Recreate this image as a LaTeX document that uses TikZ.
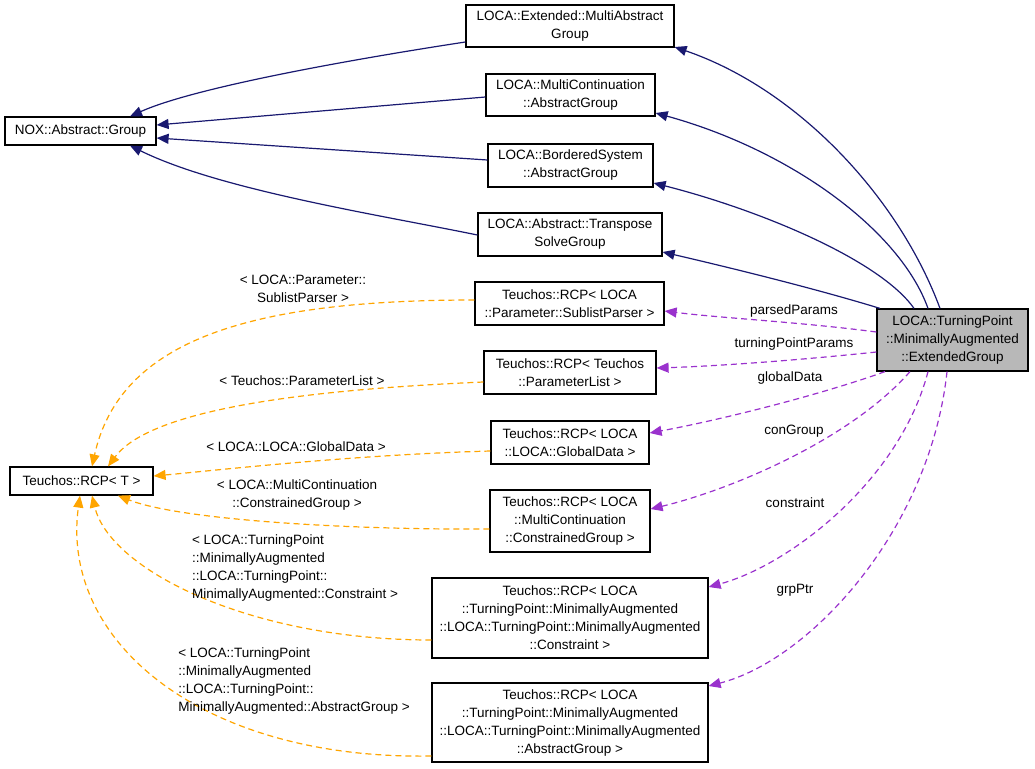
\documentclass[tikz,border=0pt]{standalone}
\usepackage{fontspec}
\setmainfont{Liberation Sans}
\usetikzlibrary{arrows.meta}
\definecolor{inh}{HTML}{191970}
\definecolor{use}{HTML}{9A32CD}
\definecolor{tmpl}{HTML}{FFA500}
\begin{document}
\begin{tikzpicture}[x=1pt,y=-1pt,
  box/.style={draw,line width=1.2pt,align=center,font=\fontsize{13.5}{18}\selectfont,inner sep=0pt,anchor=center},
  lbl/.style={align=center,font=\fontsize{13.5}{18}\selectfont},
  inh/.style={draw=inh,line width=1.2pt,-{Triangle[length=12pt,width=10pt,fill=inh]}},
  use/.style={draw=use,line width=1.2pt,dash pattern=on 6pt off 4pt,-{Triangle[length=12pt,width=10pt,fill=use]}},
  tmpl/.style={draw=tmpl,line width=1.2pt,dash pattern=on 6pt off 4pt,-{Triangle[length=12pt,width=10pt,fill=tmpl]}}]
\useasboundingbox (0,0) rectangle (1035,768);
\node[box,minimum width=151,minimum height=28] (nox) at (80.5,131) {NOX::Abstract::Group};
\node[box,minimum width=208,minimum height=42] (ext) at (570,26) {LOCA::Extended::MultiAbstract\\Group};
\node[box,minimum width=169,minimum height=42] (mc) at (570.5,95) {LOCA::MultiContinuation\\::AbstractGroup};
\node[box,minimum width=165,minimum height=43] (bs) at (570.5,165.5) {LOCA::BorderedSystem\\::AbstractGroup};
\node[box,minimum width=184,minimum height=43] (tr) at (570,234.5) {LOCA::Abstract::Transpose\\SolveGroup};
\node[box,minimum width=189,minimum height=43] (sp) at (569.5,303.5) {Teuchos::RCP< LOCA\\::Parameter::SublistParser >};
\node[box,minimum width=172,minimum height=43] (pl) at (570,372.5) {Teuchos::RCP< Teuchos\\::ParameterList >};
\node[box,minimum width=158,minimum height=43] (gd) at (570,442.5) {Teuchos::RCP< LOCA\\::LOCA::GlobalData >};
\node[box,minimum width=160,minimum height=62] (cg) at (570,521) {Teuchos::RCP< LOCA\\::MultiContinuation\\::ConstrainedGroup >};
\node[box,minimum width=276,minimum height=80] (con) at (570,618) {Teuchos::RCP< LOCA\\::TurningPoint::MinimallyAugmented\\::LOCA::TurningPoint::MinimallyAugmented\\::Constraint >};
\node[box,minimum width=276,minimum height=79] (ag) at (570,722.5) {Teuchos::RCP< LOCA\\::TurningPoint::MinimallyAugmented\\::LOCA::TurningPoint::MinimallyAugmented\\::AbstractGroup >};
\node[box,minimum width=143,minimum height=28] (rcp) at (81.5,481) {Teuchos::RCP< T >};
\node[box,fill=black!28,minimum width=151,minimum height=62] (tp) at (952.5,340) {LOCA::TurningPoint\\::MinimallyAugmented\\::ExtendedGroup};
% inheritance
\draw[inh] (ext.west|-0,42) .. controls (380,55) and (200,85) .. (130,0 |- nox.north);
\draw[inh] (mc.west|-0,97) -- (nox.east|-0,125);
\draw[inh] (bs.west|-0,160) -- (nox.east|-0,138);
\draw[inh] (tr.west|-0,235) .. controls (380,215) and (220,190) .. (130,0 |- nox.south);
\draw[inh] (940,0 |- tp.north) .. controls (900,200) and (800,90) .. (ext.east|-0,47);
\draw[inh] (928,0 |- tp.north) .. controls (900,230) and (790,150) .. (mc.east|-0,113);
\draw[inh] (914,0 |- tp.north) .. controls (880,260) and (760,210) .. (bs.east|-0,183);
\draw[inh] (880,0 |- tp.north) .. controls (820,290) and (740,270) .. (tr.east|-0,252);
% usage
\draw[use] (tp.west|-0,332) .. controls (800,322) and (720,318) .. (sp.east|-0,311);
\draw[use] (tp.west|-0,352) .. controls (800,360) and (720,366) .. (pl.east|-0,368);
\draw[use] (885,0 |- tp.south) .. controls (820,395) and (720,420) .. (gd.east|-0,433);
\draw[use] (910,0 |- tp.south) .. controls (850,440) and (730,490) .. (cg.east|-0,509);
\draw[use] (928,0 |- tp.south) .. controls (900,480) and (790,565) .. (con.east|-0,587);
\draw[use] (947,0 |- tp.south) .. controls (930,530) and (810,660) .. (ag.east|-0,686);
\node[lbl] (l1) at (794,311) {parsedParams};
\node[lbl] (l2) at (794,344) {turningPointParams};
\node[lbl] (l3) at (790,378) {globalData};
\node[lbl] (l4) at (794,431) {conGroup};
\node[lbl] (l5) at (795,503) {constraint};
\node[lbl] (l6) at (795,590) {grpPtr};
% templates
\draw[tmpl] (sp.west|-0,300) .. controls (250,300) and (120,340) .. (92,0 |- rcp.north);
\node[lbl] (t1) at (303,289) {< LOCA::Parameter::\\SublistParser >};
\draw[tmpl] (pl.west|-0,382) .. controls (300,390) and (150,410) .. (108,0 |- rcp.north);
\node[lbl] (t2) at (302,381) {< Teuchos::ParameterList >};
\draw[tmpl] (gd.west|-0,451) .. controls (350,455) and (220,470) .. (rcp.east|-0,476);
\node[lbl] (t3) at (296,447) {< LOCA::LOCA::GlobalData >};
\draw[tmpl] (cg.west|-0,529) .. controls (350,530) and (180,520) .. (118,0 |- rcp.south);
\node[lbl] (t4) at (297,495) {< LOCA::MultiContinuation\\::ConstrainedGroup >};
\draw[tmpl] (con.west|-0,640) .. controls (250,640) and (110,570) .. (92,0 |- rcp.south);
\node[lbl,align=left] (t5) at (295,568) {< LOCA::TurningPoint\\::MinimallyAugmented\\::LOCA::TurningPoint::\\MinimallyAugmented::Constraint >};
\draw[tmpl] (ag.west|-0,756) .. controls (200,760) and (60,640) .. (80,0 |- rcp.south);
\node[lbl,align=left] (t6) at (294,681) {< LOCA::TurningPoint\\::MinimallyAugmented\\::LOCA::TurningPoint::\\MinimallyAugmented::AbstractGroup >};
\end{tikzpicture}
\end{document}
